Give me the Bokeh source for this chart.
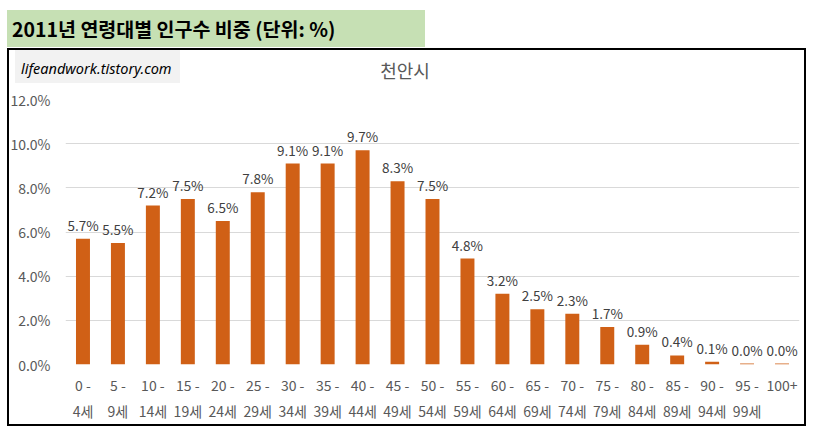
from bokeh.plotting import figure
from bokeh.models import Div, Range1d, FixedTicker, PrintfTickFormatter, ColumnDataSource
from bokeh.layouts import column
from bokeh.core.properties import value
from bokeh.embed import file_html
from bokeh.resources import INLINE

page_title = "2011년 연령대별 인구수 비중 (단위: %)"
chart_title = "천안시"
watermark = "lifeandwork.tistory.com"
age_groups = ["0 -\n4세", "5 -\n9세", "10 -\n14세", "15 -\n19세", "20 -\n24세", "25 -\n29세",
              "30 -\n34세", "35 -\n39세", "40 -\n44세", "45 -\n49세", "50 -\n54세", "55 -\n59세",
              "60 -\n64세", "65 -\n69세", "70 -\n74세", "75 -\n79세", "80 -\n84세", "85 -\n89세",
              "90 -\n94세", "95 -\n99세", "100+"]
shares = [5.7, 5.5, 7.2, 7.5, 6.5, 7.8, 9.1, 9.1, 9.7, 8.3, 7.5, 4.8, 3.2, 2.5, 2.3, 1.7,
          0.9, 0.41, 0.13, 0.045, 0.045]
y_ticks = [0, 2, 4, 6, 8, 10, 12]

KFONT = "Noto Sans CJK KR"
BAR = "#D06016"
W, H = 799, 378

head = Div(text=page_title, width=418, height=37, margin=(10, 0, 1, 7),
           styles={"background-color": "#C6E0B4", "font-family": KFONT, "font-weight": "bold",
                   "font-size": "19.5px", "color": "#000000", "line-height": "37px",
                   "padding-left": "5px", "box-sizing": "border-box"})

frame_html = (
    '<div style="position:relative;width:%dpx;height:%dpx;box-sizing:border-box;'
    'border:2px solid #000;background:#fff;">'
    '<div style="position:absolute;left:6px;top:0px;width:165px;height:33px;background:#F2F2F2;'
    'font-family:\'Noto Sans\';font-style:italic;font-size:14.5px;color:#000;'
    'line-height:29px;padding-left:6px;padding-top:4px;box-sizing:border-box;'
    'white-space:nowrap;">%s</div>'
    '<div style="position:absolute;left:346px;top:7px;width:100px;text-align:center;'
    'font-family:\'%s\';font-size:18px;color:#595959;line-height:26px;">%s</div>'
    '</div>' % (W, H, watermark, KFONT, chart_title))
box = Div(text=frame_html, width=W, height=H, margin=(0, 0, 0, 7))

p = figure(x_range=age_groups, y_range=Range1d(0, 12), width=W, height=H,
           output_backend="svg", toolbar_location=None,
           min_border_left=58, min_border_right=7, min_border_top=51, min_border_bottom=62)
p.styles = {"margin-top": "-%dpx" % H, "margin-left": "7px"}
p.border_fill_color = None
p.background_fill_color = None
p.outline_line_color = None
p.xgrid.grid_line_color = None
p.ygrid.grid_line_color = "#D9D9D9"
p.ygrid.grid_line_width = 1

p.yaxis.ticker = FixedTicker(ticks=y_ticks)
p.yaxis.formatter = PrintfTickFormatter(format="%.1f%%")
for ax in (p.xaxis[0], p.yaxis[0]):
    ax.axis_line_color = None
    ax.major_tick_line_color = None
    ax.minor_tick_line_color = None
    ax.major_label_text_color = "#595959"
    ax.major_label_text_font = KFONT
    ax.major_label_text_font_size = "14px"
p.yaxis.major_label_standoff = 9
p.xaxis.major_label_standoff = 4
p.xaxis.major_label_text_line_height = 1.3

src = ColumnDataSource(dict(x=age_groups, top=shares, lab=["%.1f%%" % v for v in shares]))
p.vbar(x="x", top="top", width=0.4, source=src, fill_color=BAR, line_color=None)
p.text(x="x", y="top", text="lab", source=src, y_offset=-4, text_align="center",
       text_baseline="bottom", text_font=value(KFONT), text_font_size="13.5px",
       text_color="#404040")

layout = column(head, box, p)
open("out.html", "w").write(file_html(layout, INLINE))
